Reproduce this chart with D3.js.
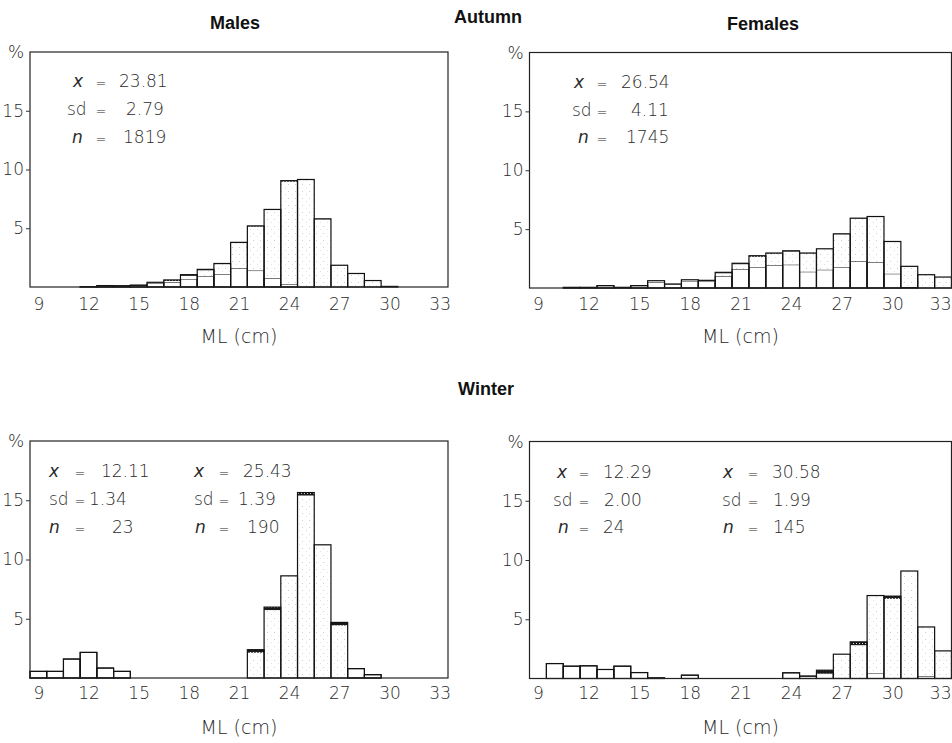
<!DOCTYPE html>
<html>
<head>
<meta charset="utf-8">
<script src="https://cdn.jsdelivr.net/npm/d3@7"></script>
<style>
  body { margin: 0; background: #fff; }
  svg { display: block; }
  .tick text, .num { font-family: "DejaVu Sans", sans-serif; font-weight: 200; fill: #2a2a2a; }
  .title { font-family: "Liberation Sans", Arial, sans-serif; font-weight: bold; fill: #111; }
</style>
</head>
<body>
<svg id="chart" width="952" height="743"></svg>
<script>
// Mantle length classes (cm) and axis ticks
const lengths = d3.range(9, 34);
const xTicks = [9, 12, 15, 18, 21, 24, 27, 30, 33];
const yTicks = [5, 10, 15];

// Autumn, males: total %, open (lower) part, dark (top) part per 1-cm class
const autumnMalesTotal = [0, 0, 0, 0.03, 0.12, 0.1, 0.15, 0.4, 0.6, 1.05, 1.5, 2.0, 3.8, 5.2, 6.6, 9.05, 9.15, 5.8, 1.85, 1.15, 0.55, 0.05, 0, 0, 0];
const autumnMalesOpen  = [0, 0, 0, 0.03, 0.12, 0.1, 0.15, 0.3, 0.4, 0.68, 0.9, 1.1, 1.6, 1.4, 0.75, 0.25, 0.02, 0, 0, 0, 0, 0, 0, 0, 0];
const autumnMalesDark  = [0, 0, 0, 0, 0, 0, 0, 0, 0.08, 0.1, 0.08, 0.05, 0.06, 0.05, 0.03, 0.08, 0.04, 0.03, 0, 0, 0, 0, 0, 0, 0];

// Autumn, females
const autumnFemalesTotal = [0, 0, 0.05, 0.05, 0.2, 0.05, 0.2, 0.62, 0.34, 0.7, 0.65, 1.33, 2.1, 2.74, 2.97, 3.16, 2.97, 3.33, 4.6, 5.93, 6.07, 3.95, 1.84, 1.13, 0.93];
const autumnFemalesOpen  = [0, 0, 0.05, 0.05, 0.2, 0.05, 0.2, 0.5, 0.3, 0.6, 0.55, 1.0, 1.6, 1.78, 1.92, 1.98, 1.38, 1.55, 1.78, 2.26, 2.2, 1.21, 0.08, 0, 0];
const autumnFemalesDark  = [0, 0, 0, 0, 0, 0, 0, 0, 0, 0, 0.05, 0.08, 0.08, 0.08, 0.05, 0.06, 0.03, 0, 0.03, 0.03, 0.03, 0, 0, 0, 0];

// Winter, males
const winterMalesTotal = [0.56, 0.56, 1.6, 2.16, 0.84, 0.56, 0, 0, 0, 0, 0, 0, 0, 2.39, 5.98, 8.62, 15.65, 11.24, 4.69, 0.79, 0.28, 0, 0, 0, 0];
const winterMalesOpen  = [0.56, 0.56, 1.6, 2.16, 0.84, 0.56, 0, 0, 0, 0, 0, 0, 0, 0, 0, 0, 0, 0, 0, 0.79, 0.28, 0, 0, 0, 0];
const winterMalesDark  = [0, 0, 0, 0, 0, 0, 0, 0, 0, 0, 0, 0, 0, 0.25, 0.25, 0, 0.25, 0, 0.25, 0, 0, 0, 0, 0, 0];

// Winter, females
const winterFemalesTotal = [0, 1.26, 1.04, 1.07, 0.76, 1.04, 0.5, 0.05, 0, 0.28, 0, 0, 0, 0, 0, 0.48, 0.2, 0.7, 2.05, 3.09, 7.0, 6.95, 9.07, 4.35, 2.33];
const winterFemalesOpen  = [0, 1.26, 1.04, 1.07, 0.76, 1.04, 0.5, 0.05, 0, 0.28, 0, 0, 0, 0, 0, 0.48, 0.2, 0.42, 0, 0, 0.42, 0, 0, 0.2, 0];
const winterFemalesDark  = [0, 0, 0, 0, 0, 0, 0, 0, 0, 0, 0, 0, 0, 0, 0, 0, 0, 0.25, 0, 0.28, 0, 0.22, 0, 0, 0];

// Summary statistics printed inside each panel
const autumnMalesStats   = [["23.81", "2.79", "1819"]];
const autumnFemalesStats = [["26.54", "4.11", "1745"]];
const winterMalesStats   = [["12.11", "1.34", "23"], ["25.43", "1.39", "190"]];
const winterFemalesStats = [["12.29", "2.00", "24"], ["30.58", "1.99", "145"]];

const svg = d3.select("#chart");
const defs = svg.append("defs");

// faint stipple
const stip = defs.append("pattern").attr("id", "stipple")
  .attr("patternUnits", "userSpaceOnUse").attr("width", 7).attr("height", 7);
stip.append("rect").attr("width", 7).attr("height", 7).attr("fill", "#fff");
stip.append("rect").attr("x", 1).attr("y", 2).attr("width", 1).attr("height", 1).attr("fill", "#cfcfcf");
stip.append("rect").attr("x", 5).attr("y", 5).attr("width", 1).attr("height", 1).attr("fill", "#e2e2e2");

// dark checkered band
const dk = defs.append("pattern").attr("id", "darkband")
  .attr("patternUnits", "userSpaceOnUse").attr("width", 3).attr("height", 3);
dk.append("rect").attr("width", 3).attr("height", 3).attr("fill", "#1a1a1a");
dk.append("rect").attr("x", 1).attr("y", 1).attr("width", 1).attr("height", 1).attr("fill", "#ddd");

const panels = [
  { x0: 30, x1: 448, yTop: 52, yBase: 287, tickOff: 23, titleY: 343,
    total: autumnMalesTotal, open: autumnMalesOpen, dark: autumnMalesDark,
    stats: autumnMalesStats,
    statPos: [{ lab: [73, 67, 72], eq: 101, val: [119, 126, 123] }], rowY: [87, 115, 143] },
  { x0: 529.5, x1: 951.5, yTop: 52.5, yBase: 288, tickOff: 22, titleY: 343,
    total: autumnFemalesTotal, open: autumnFemalesOpen, dark: autumnFemalesDark,
    stats: autumnFemalesStats,
    statPos: [{ lab: [574, 572, 578], eq: 602, val: [621, 631, 626] }], rowY: [88, 116, 143] },
  { x0: 30, x1: 448, yTop: 441, yBase: 678, tickOff: 20.5, titleY: 734,
    total: winterMalesTotal, open: winterMalesOpen, dark: winterMalesDark,
    stats: winterMalesStats,
    statPos: [{ lab: [49, 49, 49], eq: 80, val: [101, 89, 112] },
              { lab: [194, 194, 195], eq: 224, val: [243, 238, 247] }], rowY: [477, 505, 533] },
  { x0: 529.5, x1: 951.5, yTop: 441.5, yBase: 678.5, tickOff: 20.5, titleY: 734,
    total: winterFemalesTotal, open: winterFemalesOpen, dark: winterFemalesDark,
    stats: winterFemalesStats,
    statPos: [{ lab: [557, 553, 558], eq: 584, val: [603, 604, 603] },
              { lab: [723, 722, 723], eq: 753, val: [772, 773, 773] }], rowY: [478, 506, 533] }
];

const svgWidth = 952;

function drawPanel(p) {
  const x = d3.scaleLinear().domain([8.5, 33.5]).range([p.x0, p.x1]);
  const y = d3.scaleLinear().domain([0, 20]).range([p.yBase, p.yTop]);
  const g = svg.append("g");

  const rows = lengths.map((len, i) => ({
    len,
    total: p.total[i],
    open: p.open[i],
    stippled: Math.max(0, p.total[i] - p.open[i] - p.dark[i]),
    dark: p.dark[i]
  }));
  const series = d3.stack().keys(["open", "stippled", "dark"])(rows);
  const fills = { open: "#fff", stippled: "url(#stipple)", dark: "url(#darkband)" };

  series.forEach(s => {
    g.append("g").selectAll("rect")
      .data(s.filter(d => d[1] - d[0] > 0))
      .join("rect")
      .attr("x", d => x(d.data.len - 0.5))
      .attr("width", d => x(d.data.len + 0.5) - x(d.data.len - 0.5))
      .attr("y", d => y(d[1]))
      .attr("height", d => y(d[0]) - y(d[1]))
      .attr("fill", fills[s.key])
      .attr("stroke", s.key === "open" ? "#111" : "none")
      .attr("stroke-width", 1);
  });

  // bar outlines
  g.append("g").selectAll("rect")
    .data(rows.filter(d => d.total > 0))
    .join("rect")
    .attr("x", d => x(d.len - 0.5))
    .attr("width", d => x(d.len + 0.5) - x(d.len - 0.5))
    .attr("y", d => y(d.total))
    .attr("height", d => y(0) - y(d.total))
    .attr("fill", "none")
    .attr("stroke", "#111")
    .attr("stroke-width", 1.2);

  // frame
  g.append("rect")
    .attr("x", p.x0).attr("y", p.yTop)
    .attr("width", p.x1 - p.x0).attr("height", p.yBase - p.yTop)
    .attr("fill", "none").attr("stroke", "#222").attr("stroke-width", 1.2);

  // y axis
  const ya = g.append("g").attr("transform", `translate(${p.x0},0)`)
    .call(d3.axisLeft(y).tickValues(yTicks).tickSize(4).tickPadding(2));
  ya.select(".domain").remove();
  ya.selectAll("line").attr("stroke", "#333");
  ya.selectAll("text").attr("font-size", 17);

  // x axis labels; a label running past the page edge is pulled back inside
  const xa = g.append("g").attr("transform", `translate(0,${p.yBase})`)
    .call(d3.axisBottom(x).tickValues(xTicks).tickSize(0).tickPadding(0));
  xa.select(".domain").remove();
  xa.selectAll("text").attr("font-size", 17).attr("dy", null).attr("y", p.tickOff)
    .each(function (d) {
      if (x(d) + 11 > svgWidth) {
        d3.select(this).attr("text-anchor", "end").attr("x", svgWidth - 1 - x(d));
      }
    });

  g.append("text").attr("class", "num")
    .attr("x", p.x0 - 14).attr("y", p.yTop + 6)
    .attr("text-anchor", "middle").attr("font-size", 17).text("%");

  g.append("text").attr("class", "num")
    .attr("x", (p.x0 + p.x1) / 2).attr("y", p.titleY)
    .attr("text-anchor", "middle").attr("font-size", 19).text("ML (cm)");

  // statistics blocks
  const labels = ["x", "sd", "n"];
  p.stats.forEach((vals, c) => {
    const pos = p.statPos[c];
    vals.forEach((v, r) => {
      g.append("text").attr("class", "num")
        .attr("x", pos.lab[r]).attr("y", p.rowY[r]).attr("font-size", 17)
        .attr("font-style", r === 1 ? "normal" : "italic").text(labels[r]);
      g.append("text").attr("class", "num")
        .attr("x", pos.eq).attr("y", p.rowY[r]).attr("font-size", 13)
        .attr("text-anchor", "middle").text("=");
      g.append("text").attr("class", "num")
        .attr("x", pos.val[r]).attr("y", p.rowY[r]).attr("font-size", 17).text(v);
    });
  });
}

panels.forEach(drawPanel);

// headings
const titles = [
  { t: "Males", x: 235, y: 29 },
  { t: "Autumn", x: 488, y: 23 },
  { t: "Females", x: 763, y: 30 },
  { t: "Winter", x: 486, y: 395 }
];
svg.append("g").selectAll("text").data(titles).join("text")
  .attr("class", "title")
  .attr("x", d => d.x).attr("y", d => d.y)
  .attr("text-anchor", "middle").attr("font-size", 18)
  .text(d => d.t);
</script>
</body>
</html>
